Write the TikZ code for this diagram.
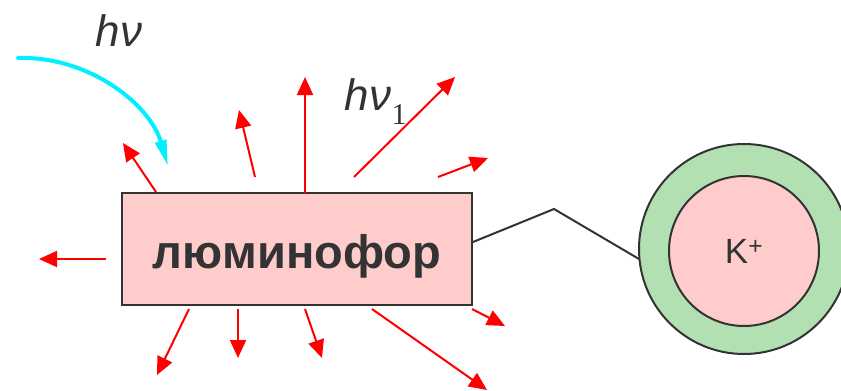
\documentclass[tikz,border=0pt]{standalone}
\usepackage{fontspec}
\setmainfont{Liberation Sans}
\newfontfamily\serifone{Liberation Serif}
\usetikzlibrary{arrows.meta}
\definecolor{lumpink}{RGB}{255,204,204}
\definecolor{shellgreen}{RGB}{179,224,179}
\definecolor{inkgray}{RGB}{51,51,51}
\definecolor{lightcyan}{RGB}{0,240,255}

\begin{document}
\begin{tikzpicture}[x=1pt, y=-1pt,
      lumbox/.style={rectangle, draw=inkgray, line width=2pt, fill=lumpink,
                     minimum width=350pt, minimum height=112pt, inner sep=0pt,
                     font=\fontsize{47}{50}\selectfont\bfseries, text=inkgray},
      shell/.style={circle, draw=inkgray, line width=2pt, inner sep=0pt},
      ray/.style={-{Triangle[length=18pt, width=16pt]}, red, line width=2pt},
      photon/.style={-{Triangle[length=26pt, width=11pt]}, lightcyan, line width=4pt, line cap=round},
      lbl/.style={text=inkgray, font=\fontsize{44}{48}\selectfont\itshape, inner sep=0pt}
    ]
    \useasboundingbox (0,0) rectangle (841,391);

    \node[lumbox] (lum) at (297,249) {\raisebox{-19pt}[0pt][0pt]{люминофор}};
    \node[shell, fill=shellgreen, minimum size=210pt] (outer) at (744,249) {};
    \node[shell, fill=lumpink, minimum size=150pt, font=\fontsize{35}{38}\selectfont, text=inkgray] (ion) at (744,251) {K\textsuperscript{+}};

    \node[lbl, anchor=west] (hnu) at (95,31) {h\kern1pt ν};
    \node[lbl, anchor=west] (hnuone) at (344,102) {h\kern1pt ν\raisebox{-14pt}{\upshape\serifone\fontsize{30}{30}\selectfont 1}};

    % incoming light
    \coordinate (src) at (18,58);
    \coordinate (hit) at (168,166);
    \draw[photon] (src) .. controls (90,56) and (150,105) .. (hit);

    % emitted light
    \foreach \i/\sx/\sy/\ex/\ey in {1/156/192/123/143, 2/255/177/239/110, 3/305/193/305/77,
        4/354/177/455/77, 5/438/177/488/158, 6/106/259/39/259, 7/189/309/157/375,
        8/238/309/238/358, 9/305/309/322/358, 10/372/309/487/390, 11/472/309/505/326}{
      \coordinate (s\i) at (\sx,\sy);
      \coordinate (e\i) at (\ex,\ey);
      \draw[ray] (s\i) -- (e\i);
    }

    % link to the ion
    \coordinate (linkstart) at (473,242);
    \coordinate (kink) at (554,209);
    \coordinate (linkend) at (639,259);
    \draw[inkgray, line width=2pt] (linkstart) -- (kink) -- (linkend);
  \end{tikzpicture}
\end{document}
